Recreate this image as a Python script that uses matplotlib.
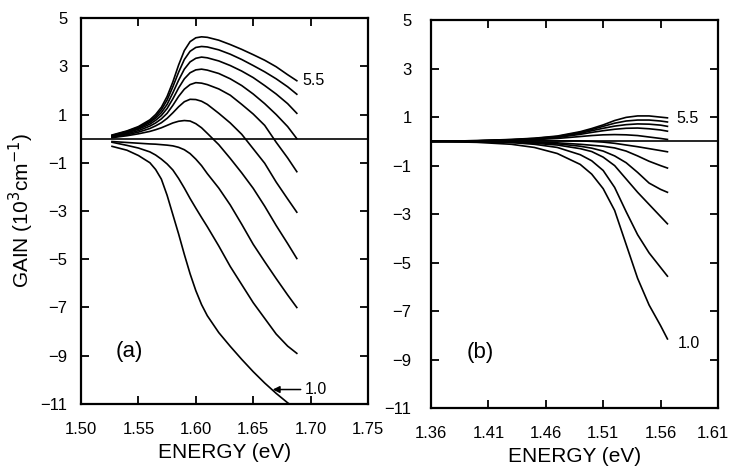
import numpy as np
import matplotlib
matplotlib.use("Agg")
import matplotlib.pyplot as plt
import matplotlib.transforms as mtransforms

plt.rcParams['font.family'] = ['Liberation Sans', 'DejaVu Sans']

# panel (a): shared energy grid, one gain curve per density (top to bottom)
energy_a = [1.527, 1.54, 1.55, 1.56, 1.565, 1.57, 1.575, 1.58, 1.585, 1.59, 1.595,
            1.60, 1.605, 1.61, 1.62, 1.63, 1.64, 1.65, 1.66, 1.67, 1.68, 1.688]
gain_a = [
    [0.15, 0.32, 0.50, 0.78, 1.00, 1.30, 1.75, 2.35, 3.05, 3.65, 4.02, 4.18, 4.22, 4.20, 4.08, 3.90, 3.70, 3.48, 3.25, 2.98, 2.65, 2.40],
    [0.13, 0.30, 0.47, 0.72, 0.92, 1.20, 1.60, 2.15, 2.75, 3.28, 3.62, 3.78, 3.82, 3.80, 3.68, 3.50, 3.28, 3.03, 2.77, 2.48, 2.15, 1.84],
    [0.12, 0.27, 0.43, 0.67, 0.85, 1.08, 1.42, 1.90, 2.42, 2.88, 3.18, 3.33, 3.38, 3.35, 3.22, 3.03, 2.80, 2.53, 2.20, 1.85, 1.45, 1.05],
    [0.10, 0.24, 0.39, 0.60, 0.76, 0.96, 1.25, 1.65, 2.10, 2.48, 2.73, 2.85, 2.88, 2.84, 2.70, 2.48, 2.20, 1.85, 1.45, 1.00, 0.50, 0.00],
    [0.08, 0.20, 0.33, 0.52, 0.65, 0.82, 1.05, 1.38, 1.75, 2.05, 2.24, 2.32, 2.30, 2.24, 2.06, 1.80, 1.42, 1.02, 0.55, -0.15, -0.80, -1.37],
    [0.06, 0.16, 0.27, 0.42, 0.53, 0.66, 0.84, 1.07, 1.32, 1.53, 1.63, 1.62, 1.55, 1.42, 1.05, 0.65, 0.18, -0.42, -1.02, -1.80, -2.50, -3.05],
    [0.04, 0.12, 0.20, 0.30, 0.37, 0.45, 0.55, 0.65, 0.72, 0.75, 0.73, 0.62, 0.45, 0.22, -0.25, -0.82, -1.42, -2.06, -2.80, -3.60, -4.35, -4.97],
    [-0.12, -0.16, -0.19, -0.22, -0.23, -0.25, -0.27, -0.30, -0.36, -0.46, -0.62, -0.85, -1.12, -1.45, -2.05, -2.75, -3.55, -4.38, -5.10, -5.80, -6.48, -7.00],
    [-0.15, -0.28, -0.39, -0.55, -0.68, -0.85, -1.05, -1.30, -1.65, -2.05, -2.48, -2.88, -3.27, -3.65, -4.45, -5.30, -6.05, -6.80, -7.45, -8.10, -8.60, -8.90],
    [-0.32, -0.48, -0.70, -1.00, -1.28, -1.68, -2.35, -3.15, -3.95, -4.80, -5.60, -6.30, -6.88, -7.34, -8.04, -8.61, -9.15, -9.66, -10.13, -10.56, -10.95, -11.20],
]

# panel (b)
energy_b = [1.36, 1.40, 1.43, 1.45, 1.47, 1.49, 1.50, 1.51, 1.52, 1.53, 1.54, 1.55, 1.56, 1.566]
gain_b = [
    [0.0, 0.03, 0.08, 0.13, 0.22, 0.40, 0.53, 0.68, 0.86, 0.99, 1.05, 1.05, 1.00, 0.97],
    [0.0, 0.03, 0.07, 0.12, 0.20, 0.37, 0.49, 0.62, 0.75, 0.84, 0.88, 0.88, 0.84, 0.80],
    [0.0, 0.02, 0.06, 0.10, 0.18, 0.33, 0.44, 0.54, 0.63, 0.69, 0.72, 0.71, 0.67, 0.62],
    [0.0, 0.02, 0.05, 0.09, 0.16, 0.29, 0.37, 0.44, 0.50, 0.54, 0.55, 0.52, 0.47, 0.42],
    [0.0, 0.01, 0.04, 0.07, 0.12, 0.20, 0.24, 0.27, 0.28, 0.27, 0.24, 0.18, 0.12, 0.08],
    [0.0, 0.00, 0.01, 0.02, 0.02, 0.02, 0.00, -0.03, -0.08, -0.15, -0.22, -0.30, -0.38, -0.43],
    [0.0, 0.00, -0.01, -0.03, -0.06, -0.12, -0.16, -0.20, -0.27, -0.40, -0.60, -0.82, -1.00, -1.10],
    [0.0, 0.00, -0.02, -0.05, -0.10, -0.20, -0.28, -0.40, -0.60, -0.88, -1.28, -1.72, -1.98, -2.10],
    [0.0, -0.01, -0.04, -0.08, -0.15, -0.30, -0.42, -0.65, -1.00, -1.55, -2.10, -2.60, -3.10, -3.40],
    [0.0, -0.01, -0.05, -0.12, -0.25, -0.55, -0.80, -1.20, -1.90, -2.90, -3.85, -4.60, -5.20, -5.56],
    [0.0, -0.04, -0.12, -0.25, -0.50, -0.95, -1.35, -1.95, -2.85, -4.25, -5.65, -6.75, -7.60, -8.15],
]

yticks = [5, 3, 1, -1, -3, -5, -7, -9, -11]
xticks_a = [1.50, 1.55, 1.60, 1.65, 1.70, 1.75]
xticks_b = [1.36, 1.41, 1.46, 1.51, 1.56, 1.61]

fig = plt.figure(figsize=(7.32, 4.69), dpi=100)
ax_a = fig.add_axes([0.1107, 0.1386, 0.392, 0.823])
ax_b = fig.add_axes([0.5888, 0.130, 0.392, 0.827])


def style(ax, xticks, ypad):
    ax.set_xlim(xticks[0], xticks[-1])
    ax.set_ylim(-11, 5)
    ax.set_xticks(xticks)
    ax.set_xticklabels(["%.2f" % t for t in xticks])
    ax.set_yticks(yticks)
    ax.set_yticklabels([str(t).replace('-', '\u2212') for t in yticks])
    ax.tick_params(axis='x', direction='in', top=True, length=6, width=1.3,
                   labelsize=12, pad=13)
    ax.tick_params(axis='y', direction='in', right=True, length=6, width=1.3,
                   labelsize=12, pad=ypad)
    for s in ax.spines.values():
        s.set_linewidth(1.6)
    ax.axhline(0, color='black', lw=1.2)
    ax.set_xlabel('ENERGY (eV)', fontsize=15, labelpad=4)


for g in gain_a:
    ax_a.plot(energy_a, g, color='black', lw=1.2)
for g in gain_b:
    ax_b.plot(energy_b, g, color='black', lw=1.2)

style(ax_a, xticks_a, 10)
style(ax_b, xticks_b, 14)
ax_a.set_ylabel('GAIN (10$^3$cm$^{-1}$)', fontsize=15, labelpad=3)

# keep the last tick label of (b) inside the picture
last = ax_b.get_xticklabels()[-1]
last.set_transform(last.get_transform() +
                   mtransforms.ScaledTranslation(-4 / 72, 0, fig.dpi_scale_trans))

ax_a.text(1.693, 2.4, '5.5', fontsize=11.5, va='center', ha='left')
ax_a.annotate('1.0', xy=(1.667, -10.4), xytext=(1.695, -10.4), fontsize=11.5,
              va='center', ha='left',
              arrowprops=dict(arrowstyle='-|>', color='black', lw=1.1,
                              mutation_scale=10, shrinkA=1, shrinkB=0))
ax_a.text(1.542, -8.83, '(a)', fontsize=16, va='center', ha='center')

ax_b.text(1.574, 0.95, '5.5', fontsize=11.5, va='center', ha='left')
ax_b.text(1.575, -8.35, '1.0', fontsize=11.5, va='center', ha='left')
ax_b.text(1.4027, -8.72, '(b)', fontsize=16, va='center', ha='center')

fig.savefig('out.png', dpi=100)
